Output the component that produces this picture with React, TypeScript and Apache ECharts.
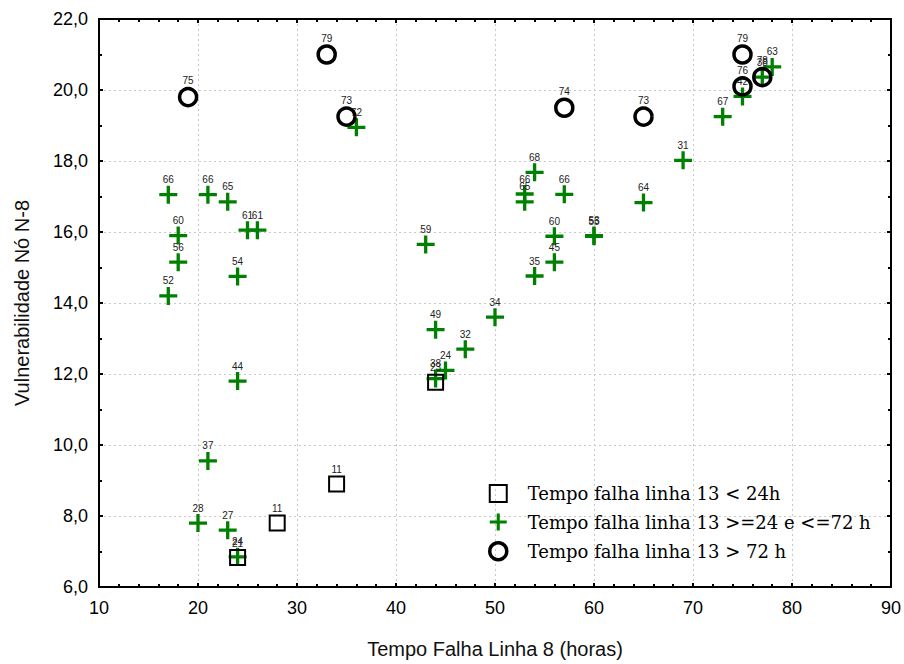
import React, { useEffect, useRef } from "react";
import * as echarts from "echarts";

// [x (Tempo Falha Linha 8), y (Vulnerabilidade), label (Tempo falha linha 13)]
const squarePoints: [number, number, string][] = [
  [24, 6.83, "21"],
  [28, 7.8, "11"],
  [34, 8.9, "11"],
  [44, 11.77, "23"],
];

const crossPoints: [number, number, string][] = [
  [17, 17.05, "66"],
  [21, 17.05, "66"],
  [23, 16.85, "65"],
  [25, 16.05, "61"],
  [26, 16.05, "61"],
  [18, 15.9, "60"],
  [18, 15.15, "56"],
  [24, 14.75, "54"],
  [17, 14.2, "52"],
  [24, 11.8, "44"],
  [21, 9.55, "37"],
  [20, 7.8, "28"],
  [23, 7.6, "27"],
  [24, 6.85, "24"],
  [36, 18.95, "72"],
  [43, 15.65, "59"],
  [44, 13.25, "49"],
  [44, 11.87, "38"],
  [45, 12.1, "24"],
  [47, 12.7, "32"],
  [50, 13.6, "34"],
  [54, 17.68, "68"],
  [53, 17.07, "66"],
  [53, 16.85, "65"],
  [57, 17.06, "66"],
  [56, 15.88, "60"],
  [56, 15.15, "45"],
  [54, 14.76, "35"],
  [60, 15.9, "53"],
  [60, 15.88, "55"],
  [65, 16.83, "64"],
  [69, 18.02, "31"],
  [73, 19.25, "67"],
  [75, 19.82, "42"],
  [77, 20.36, "38"],
  [78, 20.65, "63"],
];

const circlePoints: [number, number, string][] = [
  [19, 19.8, "75"],
  [33, 21.0, "79"],
  [35, 19.25, "73"],
  [57, 19.5, "74"],
  [65, 19.25, "73"],
  [75, 21.0, "79"],
  [75, 20.1, "76"],
  [77, 20.36, "78"],
];

const seriesNames = [
  "Tempo falha linha 13 < 24h",
  "Tempo falha linha 13 >=24 e <=72 h",
  "Tempo falha linha 13 > 72 h",
];

const crossPath =
  "path://M24.5,0 H35.5 V24.5 H60 V35.5 H35.5 V60 H24.5 V35.5 H0 V24.5 H24.5 Z";

const SANS = "Liberation Sans, Arial, sans-serif";

export default function App() {
  const ref = useRef<HTMLDivElement>(null);
  useEffect(() => {
    if (!ref.current) return;
    const chart = echarts.init(ref.current, null, { renderer: "svg" });
    const axisLine = { show: true, lineStyle: { color: "#000", width: 2 } };
    const tick = { show: true, inside: true, length: 4, lineStyle: { color: "#000", width: 2 } };
    const labelCommon = {
      show: true,
      position: "top" as const,
      distance: 1,
      fontSize: 10,
      fontFamily: SANS,
      color: "#222",
      formatter: (p: any) => p.value[2],
    };
    chart.setOption({
      animation: false,
      backgroundColor: "#fff",
      grid: { left: 99, right: 13, top: 19, bottom: 75, containLabel: false },
      legend: {
        orient: "vertical",
        left: 483,
        top: 479,
        itemWidth: 17,
        itemHeight: 17,
        itemGap: 10,
        textStyle: {
          fontFamily: "DejaVu Serif, serif",
          fontSize: 18,
          lineHeight: 17,
          color: "#000",
          padding: [0, 0, 0, 16],
        },
        data: [
          { name: seriesNames[0], itemStyle: { borderWidth: 2 } },
          { name: seriesNames[1] },
          { name: seriesNames[2], itemStyle: { borderWidth: 3.5 } },
        ],
      },
      xAxis: [
        {
          type: "value",
          min: 10,
          max: 90,
          interval: 10,
          name: "Tempo Falha Linha 8 (horas)",
          nameLocation: "middle",
          nameGap: 52,
          nameTextStyle: { fontFamily: SANS, fontSize: 20, color: "#111" },
          axisLine,
          axisTick: tick,
          minorTick: { show: true, splitNumber: 5, length: 3, lineStyle: { color: "#000", width: 2 } },
          axisLabel: { fontFamily: SANS, fontSize: 18, color: "#000", margin: 12 },
          splitLine: { show: true, lineStyle: { color: "#c8c8c8", type: [2, 3], width: 1 } },
        },
        {
          type: "value",
          position: "top",
          min: 10,
          max: 90,
          interval: 10,
          axisLine,
          axisTick: tick,
          minorTick: { show: true, splitNumber: 5, length: 3, lineStyle: { color: "#000", width: 2 } },
          axisLabel: { show: false },
          splitLine: { show: false },
        },
      ],
      yAxis: [
        {
          type: "value",
          min: 6,
          max: 22,
          interval: 2,
          name: "Vulnerabilidade Nó N-8",
          nameLocation: "middle",
          nameGap: 67,
          nameTextStyle: { fontFamily: SANS, fontSize: 20, color: "#111" },
          axisLine,
          axisTick: tick,
          minorTick: { show: true, splitNumber: 2, length: 3, lineStyle: { color: "#000", width: 2 } },
          axisLabel: {
            fontFamily: SANS,
            fontSize: 18,
            color: "#000",
            margin: 11,
            formatter: (v: number) => v.toFixed(1).replace(".", ","),
          },
          splitLine: { show: true, lineStyle: { color: "#c8c8c8", type: [2, 3], width: 1 } },
        },
        {
          type: "value",
          position: "right",
          min: 6,
          max: 22,
          interval: 2,
          axisLine,
          axisTick: tick,
          minorTick: { show: true, splitNumber: 2, length: 3, lineStyle: { color: "#000", width: 2 } },
          axisLabel: { show: false },
          splitLine: { show: false },
        },
      ],
      series: [
        {
          name: seriesNames[0],
          type: "scatter",
          symbol: "rect",
          symbolSize: 15,
          itemStyle: { color: "rgba(255,255,255,0)", borderColor: "#000", borderWidth: 2, opacity: 1 },
          label: labelCommon,
          data: squarePoints,
          z: 3,
        },
        {
          name: seriesNames[1],
          type: "scatter",
          symbol: crossPath,
          symbolSize: 18,
          itemStyle: { color: "#008000", opacity: 1 },
          label: labelCommon,
          data: crossPoints,
          z: 2,
        },
        {
          name: seriesNames[2],
          type: "scatter",
          symbol: "circle",
          symbolSize: 17,
          itemStyle: { color: "rgba(255,255,255,0)", borderColor: "#000", borderWidth: 3.5, opacity: 1 },
          label: labelCommon,
          data: circlePoints,
          z: 3,
        },
      ],
    });
    return () => chart.dispose();
  }, []);
  return <div ref={ref} style={{ width: 904, height: 664, position: "absolute", left: 0, top: 0 }} />;
}
